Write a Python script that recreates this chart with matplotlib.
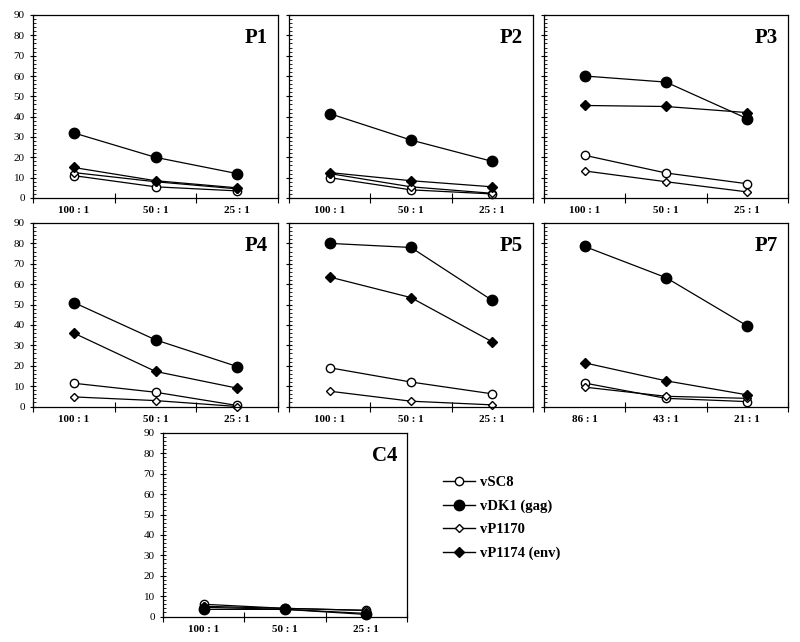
import matplotlib
matplotlib.use("Agg")
import matplotlib.pyplot as plt
from matplotlib.ticker import MultipleLocator, FixedLocator
from matplotlib.lines import Line2D

plt.rcParams['font.family'] = ['Liberation Serif', 'DejaVu Serif']

series_names = ["vSC8", "vDK1 (gag)", "vP1170", "vP1174 (env)"]
ratios_std = ["100 : 1", "50 : 1", "25 : 1"]
ratios_p7 = ["86 : 1", "43 : 1", "21 : 1"]

# values per panel: vSC8, vDK1, vP1170, vP1174
P1_vSC8 = [11, 5.5, 3.5]
P1_vDK1 = [32, 20, 12]
P1_vP1170 = [12.5, 8, 4.5]
P1_vP1174 = [15, 8.5, 5]

P2_vSC8 = [10, 4, 2]
P2_vDK1 = [41.5, 28.5, 18]
P2_vP1170 = [12, 5.5, 2.3]
P2_vP1174 = [12.5, 8.5, 5.5]

P3_vSC8 = [21, 12.3, 7]
P3_vDK1 = [60, 57, 39]
P3_vP1170 = [13.3, 8, 3]
P3_vP1174 = [45.5, 45, 42]

P4_vSC8 = [11.4, 7, 0.5]
P4_vDK1 = [51, 32.7, 19.6]
P4_vP1170 = [4.7, 2.9, 0]
P4_vP1174 = [36, 17.2, 9]

P5_vSC8 = [19, 12, 6.2]
P5_vDK1 = [80, 78, 52]
P5_vP1170 = [7.5, 2.6, 0.8]
P5_vP1174 = [63.5, 53.4, 31.7]

P7_vSC8 = [11.5, 4, 2.4]
P7_vDK1 = [78.5, 63.2, 39.5]
P7_vP1170 = [9.5, 5, 4]
P7_vP1174 = [21.4, 12.6, 5.7]

C4_vSC8 = [6, 4, 3]
C4_vDK1 = [3.5, 3.5, 1]
C4_vP1170 = [5, 4, 3]
C4_vP1174 = [4.5, 3.5, 1.5]

panels = [
    ("P1", [P1_vSC8, P1_vDK1, P1_vP1170, P1_vP1174], ratios_std, (33, 15, 278, 198), True),
    ("P2", [P2_vSC8, P2_vDK1, P2_vP1170, P2_vP1174], ratios_std, (289, 15, 533, 198), False),
    ("P3", [P3_vSC8, P3_vDK1, P3_vP1170, P3_vP1174], ratios_std, (544, 15, 788, 198), False),
    ("P4", [P4_vSC8, P4_vDK1, P4_vP1170, P4_vP1174], ratios_std, (33, 223, 278, 406.5), True),
    ("P5", [P5_vSC8, P5_vDK1, P5_vP1170, P5_vP1174], ratios_std, (289, 223, 533, 406.5), False),
    ("P7", [P7_vSC8, P7_vDK1, P7_vP1170, P7_vP1174], ratios_p7, (544, 223, 788, 406.5), False),
    ("C4", [C4_vSC8, C4_vDK1, C4_vP1170, C4_vP1174], ratios_std, (163, 433, 407, 616.5), True),
]

styles = [
    dict(marker='o', markersize=6, markerfacecolor='white', markeredgecolor='black', markeredgewidth=1),
    dict(marker='o', markersize=7.5, markerfacecolor='black', markeredgecolor='black'),
    dict(marker='D', markersize=4.5, markerfacecolor='white', markeredgecolor='black', markeredgewidth=1),
    dict(marker='D', markersize=5.5, markerfacecolor='black', markeredgecolor='black'),
]

W, H = 800, 642
fig = plt.figure(figsize=(W / 100, H / 100), dpi=100)

for title, data, xlabels, (x0, y0, x1, y1), show_y in panels:
    ax = fig.add_axes([x0 / W, 1 - y1 / H, (x1 - x0) / W, (y1 - y0) / H])
    xs = [0.5, 1.5, 2.5]
    for vals, st in zip(data, styles):
        ax.plot(xs, vals, color='black', linewidth=0.9, clip_on=False, **st)
    ax.set_xlim(0, 3)
    ax.set_ylim(0, 90)
    ax.xaxis.set_major_locator(FixedLocator([0, 1, 2, 3]))
    ax.xaxis.set_minor_locator(FixedLocator(xs))
    ax.set_xticklabels([])
    ax.set_xticklabels(xlabels, minor=True, fontsize=8, fontweight='bold')
    ax.tick_params(axis='x', which='major', direction='inout', length=7, width=0.8)
    ax.tick_params(axis='x', which='minor', length=0, pad=6)
    ax.yaxis.set_major_locator(MultipleLocator(10))
    ax.yaxis.set_minor_locator(MultipleLocator(2))
    ax.tick_params(axis='y', which='major', direction='inout', length=5, width=0.8, labelsize=8)
    ax.tick_params(axis='y', which='minor', direction='in', length=2.5, width=0.6)
    if not show_y:
        ax.set_yticklabels([])
    for s in ax.spines.values():
        s.set_linewidth(0.9)
    ax.text(0.96, 0.93, title, transform=ax.transAxes, ha='right', va='top',
            fontsize=15, fontweight='bold')

handles = [Line2D([0], [0], color='black', linewidth=1, **st) for st in styles]
fig.legend(handles, series_names, loc='upper left', bbox_to_anchor=(430 / W, 1 - 463 / H),
           frameon=False, prop={'size': 10.5, 'weight': 'bold'}, handlelength=2.2,
           labelspacing=0.7, handletextpad=0.3)

fig.savefig("out.png", dpi=100)
